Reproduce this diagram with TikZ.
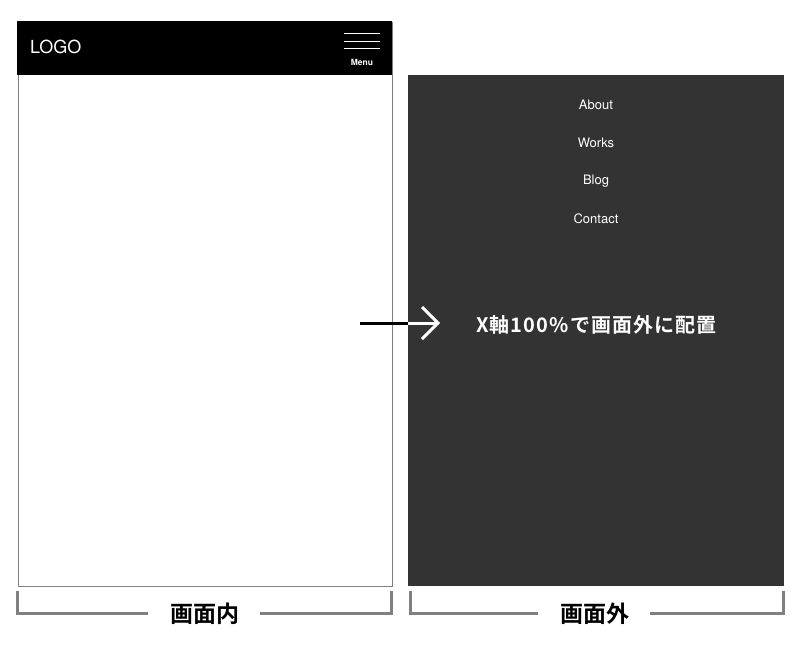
\documentclass[tikz,border=0pt]{standalone}
\usepackage{fontspec}
\setmainfont{TeX Gyre Heros}
\newfontfamily\jpfont{Noto Sans CJK JP}[BoldFont={* Bold}]
\newfontfamily\jpwide{Noto Sans CJK JP}[BoldFont={* Bold},LetterSpace=5.5]
\definecolor{panel}{HTML}{333333}
\definecolor{frameline}{HTML}{808080}
\begin{document}
\begin{tikzpicture}[x=1pt,y=-1pt,
  menuitem/.style={text=white,font=\fontsize{13}{15}\selectfont,inner sep=0pt,anchor=center},
  bracketline/.style={draw=frameline,line width=3pt},
  bracketlabel/.style={font=\jpfont\bfseries\fontsize{23}{25}\selectfont,inner sep=0pt,anchor=center}]
\useasboundingbox (0,0) rectangle (800,646);
% left screen
\node[draw=frameline,line width=1pt,minimum width=374pt,minimum height=564pt,inner sep=0pt,anchor=north west] (screen) at (17.5,21.5) {};
\fill[black] (17,21) rectangle (391.5,75);
\node[text=white,font=\fontsize{18}{20}\selectfont,inner sep=0pt,anchor=west] (logo) at (30,47) {LOGO};
\foreach \yy/\nm in {33/h1,41/h2,48/h3}{
  \coordinate (\nm a) at (344,\yy); \coordinate (\nm b) at (380,\yy);
  \draw[white,line width=1pt] (\nm a) -- (\nm b);}
\node[text=white,font=\bfseries\fontsize{8.5}{10}\selectfont,inner sep=0pt] (menu) at (362,62) {Menu};
% right panel
\fill[panel] (408,75) rectangle (784,586);
\node[menuitem] (about) at (596,105) {About};
\node[menuitem] (works) at (596,143) {Works};
\node[menuitem] (blog) at (596,181) {Blog};
\node[menuitem] (contact) at (596,219) {Contact};
% arrow
\coordinate (astart) at (360,323);
\coordinate (amid) at (408,323);
\coordinate (aend) at (438,323);
\draw[black,line width=3pt] (astart) -- (amid);
\draw[white,line width=3pt] (amid) -- (aend);
\draw[white,line width=3pt,line join=miter] (422,307) -- (aend) -- (422,339);
\node[text=white,font=\jpwide\bfseries\fontsize{20}{22}\selectfont,inner sep=0pt,anchor=west] (caption) at (476,325) {X軸100\%で画面外に配置};
% bottom brackets
\node[bracketlabel] (inlabel) at (205,614) {画面内};
\node[bracketlabel] (outlabel) at (595,614) {画面外};
\coordinate (l1) at (17,591); \coordinate (l2) at (17,613); \coordinate (l3) at (148,613);
\coordinate (l4) at (260,613); \coordinate (l5) at (391,613); \coordinate (l6) at (391,591);
\draw[bracketline] (l1) -- (l2) -- (l3);
\draw[bracketline] (l4) -- (l5) -- (l6);
\coordinate (r1) at (410,591); \coordinate (r2) at (410,613); \coordinate (r3) at (538,613);
\coordinate (r4) at (650,613); \coordinate (r5) at (783,613); \coordinate (r6) at (783,591);
\draw[bracketline] (r1) -- (r2) -- (r3);
\draw[bracketline] (r4) -- (r5) -- (r6);
\end{tikzpicture}
\end{document}
